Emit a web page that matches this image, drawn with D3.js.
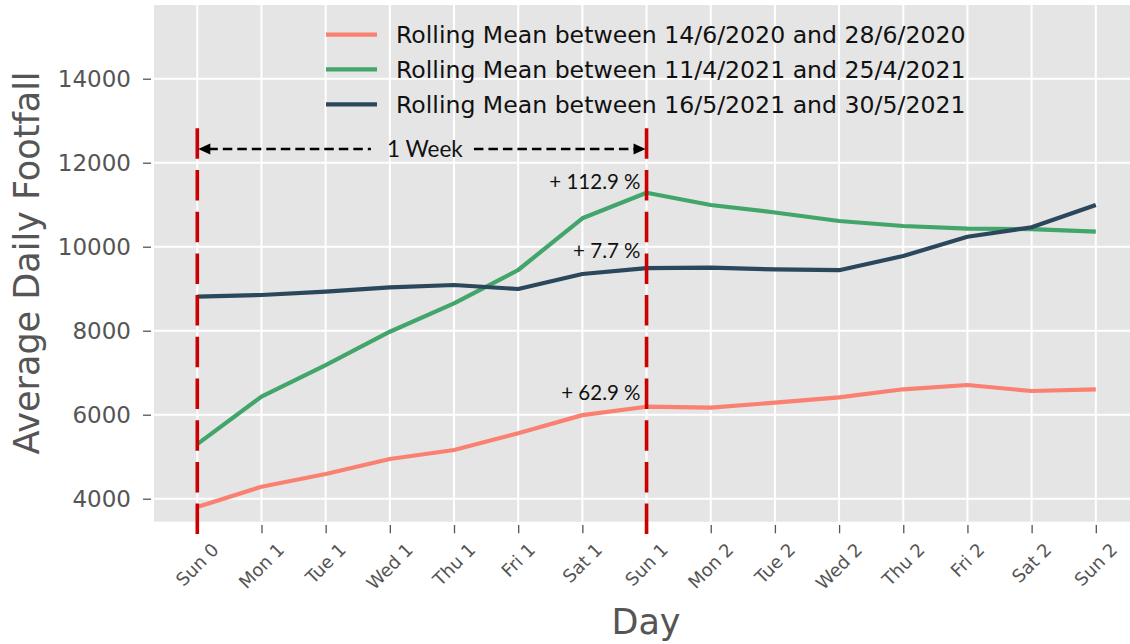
<!DOCTYPE html>
<html>
<head>
<meta charset="utf-8">
<script src="https://cdn.jsdelivr.net/npm/d3@7"></script>
<style>
  html, body { margin: 0; padding: 0; background: #ffffff; }
  svg { display: block; }
</style>
</head>
<body>
<svg id="chart" width="1130" height="644"></svg>
<script>
// Day labels along the x axis (two weeks from the reference Sunday)
const days = ["Sun 0", "Mon 1", "Tue 1", "Wed 1", "Thu 1", "Fri 1", "Sat 1",
              "Sun 1", "Mon 2", "Tue 2", "Wed 2", "Thu 2", "Fri 2", "Sat 2", "Sun 2"];

// Rolling-mean daily footfall for each period
const footfallJun2020 = [3800, 4286, 4588, 4945, 5160, 5557, 5990, 6190, 6170, 6286, 6414, 6605, 6707, 6564, 6605];
const footfallApr2021 = [5300, 6429, 7183, 7976, 8652, 9445, 10676, 11285, 10993, 10815, 10612, 10493, 10429, 10420, 10357];
const footfallMay2021 = [8810, 8850, 8929, 9033, 9088, 8993, 9350, 9490, 9500, 9460, 9440, 9779, 10238, 10462, 10993];

const seriesNames = [
  "Rolling Mean between 14/6/2020 and 28/6/2020",
  "Rolling Mean between 11/4/2021 and 25/4/2021",
  "Rolling Mean between 16/5/2021 and 30/5/2021"
];
const seriesColors = ["#fa8072", "#42a569", "#2b475c"];

const yTicks = [4000, 6000, 8000, 10000, 12000, 14000];

// Week boundaries marked by the red dashed lines
const weekStart = 0;
const weekEnd = 7;

const series = [footfallJun2020, footfallApr2021, footfallMay2021].map((values, i) => ({
  name: seriesNames[i],
  color: seriesColors[i],
  values
}));

// ---- layout ----
const svg = d3.select("#chart");
const plot = { left: 154, top: 5, right: 1140, bottom: 521.7 };

const x = d3.scaleLinear().domain([0, days.length - 1]).range([197.3, 1095.8]);
const y = d3.scaleLinear().domain([4000, 14000]).range([498.7, 78.7]);

const axisFont = "DejaVu Sans, sans-serif";
const noteFont = "Lato, 'Open Sans', sans-serif";
const axisGrey = "#555555";

// plot background
svg.append("rect")
  .attr("x", plot.left).attr("y", plot.top)
  .attr("width", plot.right - plot.left).attr("height", plot.bottom - plot.top)
  .attr("fill", "#e5e5e5");

// grid
const grid = svg.append("g").attr("stroke", "#ffffff").attr("stroke-width", 2);
grid.selectAll("line.gx").data(days.map((d, i) => i)).join("line")
  .attr("class", "gx")
  .attr("x1", d => x(d)).attr("x2", d => x(d))
  .attr("y1", plot.top).attr("y2", plot.bottom);
grid.selectAll("line.gy").data(yTicks).join("line")
  .attr("class", "gy")
  .attr("x1", plot.left).attr("x2", plot.right)
  .attr("y1", d => y(d)).attr("y2", d => y(d));

// y axis
const yAxis = svg.append("g")
  .attr("transform", "translate(151,0)")
  .call(d3.axisLeft(y).tickValues(yTicks).tickSize(8).tickPadding(12).tickFormat(d3.format("d")));
yAxis.select(".domain").remove();
yAxis.selectAll(".tick line").attr("stroke", axisGrey).attr("stroke-width", 1.3);
yAxis.selectAll(".tick text")
  .attr("fill", axisGrey)
  .style("font-family", axisFont)
  .style("font-size", "23px");

// x axis ticks
const xAxis = svg.append("g")
  .attr("transform", "translate(0,525)")
  .call(d3.axisBottom(x).tickValues(days.map((d, i) => i)).tickSize(8.3).tickFormat(""));
xAxis.select(".domain").remove();
xAxis.selectAll(".tick line").attr("stroke", axisGrey).attr("stroke-width", 1.3);

// rotated x tick labels, centred under each tick
const xLabelSize = 18;
const xLabelTop = 539;
const xLabels = svg.append("g")
  .style("font-family", axisFont)
  .style("font-size", xLabelSize + "px")
  .attr("fill", axisGrey);
xLabels.selectAll("text").data(days).join("text")
  .text(d => d)
  .attr("text-anchor", "middle")
  .attr("dy", "0.35em")
  .each(function (d, i) {
    const w = this.getComputedTextLength();
    const h = xLabelSize * 1.164;
    const cy = xLabelTop + (w + h) * Math.SQRT1_2 / 2;
    const cx = x(i);
    d3.select(this)
      .attr("x", cx).attr("y", cy)
      .attr("transform", `rotate(-45,${cx},${cy})`);
  });

// axis titles
svg.append("text")
  .attr("transform", "translate(38.5,263) rotate(-90)")
  .attr("text-anchor", "middle")
  .attr("fill", axisGrey)
  .style("font-family", axisFont)
  .style("font-size", "35px")
  .text("Average Daily Footfall");

svg.append("text")
  .attr("x", 646).attr("y", 633.5)
  .attr("text-anchor", "middle")
  .attr("fill", axisGrey)
  .style("font-family", axisFont)
  .style("font-size", "35px")
  .text("Day");

// series lines
const line = d3.line().x((d, i) => x(i)).y(d => y(d));
svg.append("g").selectAll("path").data(series).join("path")
  .attr("d", d => line(d.values))
  .attr("fill", "none")
  .attr("stroke", d => d.color)
  .attr("stroke-width", 4.2)
  .attr("stroke-linejoin", "round");

// red dashed week markers
svg.append("g").selectAll("line").data([weekStart, weekEnd]).join("line")
  .attr("x1", d => x(d)).attr("x2", d => x(d))
  .attr("y1", 128.3).attr("y2", 535)
  .attr("stroke", "#cc0000")
  .attr("stroke-width", 3.6)
  .attr("stroke-dasharray", "30.5,11.2");

// "1 Week" double arrow
const arrowY = 149;
const xa = x(weekStart), xb = x(weekEnd);
const midX = (xa + xb) / 2 + 3;
const arrowG = svg.append("g");
arrowG.append("line")
  .attr("x1", xa + 11).attr("x2", midX - 54)
  .attr("y1", arrowY).attr("y2", arrowY)
  .attr("stroke", "#000").attr("stroke-width", 2.5).attr("stroke-dasharray", "9.5,5");
arrowG.append("line")
  .attr("x1", midX + 49).attr("x2", xb - 11)
  .attr("y1", arrowY).attr("y2", arrowY)
  .attr("stroke", "#000").attr("stroke-width", 2.5).attr("stroke-dasharray", "9.5,5");
arrowG.append("path")
  .attr("d", `M${xa + 1},${arrowY} L${xa + 13},${arrowY - 5.5} L${xa + 13},${arrowY + 5.5} Z`)
  .attr("fill", "#000");
arrowG.append("path")
  .attr("d", `M${xb - 1},${arrowY} L${xb - 13},${arrowY - 5.5} L${xb - 13},${arrowY + 5.5} Z`)
  .attr("fill", "#000");
arrowG.append("text")
  .attr("x", midX).attr("y", 156.5)
  .attr("text-anchor", "middle")
  .attr("fill", "#111")
  .style("font-family", noteFont)
  .style("font-size", "22.5px")
  .text("1 Week");

// week-on-week change labels at the end of the first week
const labelOffsets = [6.7, 4.2, 9.8];
svg.append("g").selectAll("text").data(series).join("text")
  .attr("x", x(weekEnd) - 6)
  .attr("y", (d, i) => y(d.values[weekEnd]) - labelOffsets[i])
  .attr("text-anchor", "end")
  .attr("fill", "#111")
  .style("font-family", noteFont)
  .style("font-size", "20.5px")
  .text(d => `+ ${((d.values[weekEnd] / d.values[weekStart] - 1) * 100).toFixed(1)} %`);

// legend
const legend = svg.append("g");
const legendRows = [34.7, 69.3, 104.3];
series.forEach((s, i) => {
  legend.append("line")
    .attr("x1", 326).attr("x2", 377)
    .attr("y1", legendRows[i]).attr("y2", legendRows[i])
    .attr("stroke", s.color).attr("stroke-width", 4.2);
  legend.append("text")
    .attr("x", 396).attr("y", legendRows[i] + 8.7)
    .attr("fill", "#111")
    .style("font-family", axisFont)
    .style("font-size", "23.6px")
    .text(s.name);
});
</script>
</body>
</html>
